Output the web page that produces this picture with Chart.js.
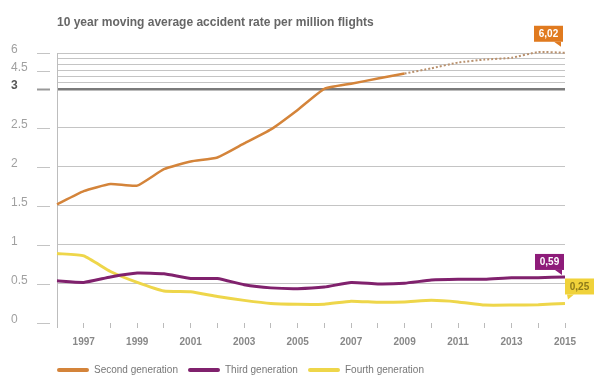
<!DOCTYPE html>
<html>
<head>
<meta charset="utf-8">
<script src="https://cdn.jsdelivr.net/npm/chart.js@4.4.1/dist/chart.umd.min.js"></script>
<style>
  body { margin: 0; background: #fff; }
  #wrap { width: 600px; height: 379px; }
</style>
</head>
<body>
<div id="wrap"><canvas id="chart"></canvas></div>
<script>
// data
const years = ["1996","1997","1998","1999","2000","2001","2002","2003","2004","2005",
               "2006","2007","2008","2009","2010","2011","2012","2013","2014","2015"];
const secondGen = [1.52,1.69,1.78,1.76,1.97,2.07,2.12,2.30,2.48,2.73,3.0,3.43,3.86,4.28,4.72,5.2,5.45,5.6,6.08,6.02];
const thirdGen  = [0.54,0.52,0.59,0.64,0.63,0.57,0.57,0.49,0.45,0.44,0.46,0.52,0.50,0.51,0.55,0.56,0.56,0.58,0.58,0.59];
const fourthGen = [0.89,0.86,0.66,0.52,0.41,0.40,0.34,0.29,0.25,0.24,0.24,0.28,0.265,0.27,0.29,0.27,0.23,0.23,0.235,0.25];
const seriesNames = ["Second generation", "Third generation", "Fourth generation"];
const endLabels = ["6,02", "0,59", "0,25"];
const yTicks = [0,0.5,1,1.5,2,2.5,3,3.5,4,4.5,5,5.5,6];
const yLabeled = [0,0.5,1,1.5,2,2.5,3,4.5,6];
const dottedFrom = "2009"; // second generation turns dotted here

// axis is broken at 3: everything above is squeezed
const BREAK = 3;
const SQUEEZE = 0.153;
function squash(v) { return v <= BREAK ? v : BREAK + (v - BREAK) * SQUEEZE; }
function unsquash(v) { return v <= BREAK ? v : BREAK + (v - BREAK) / SQUEEZE; }
function near(a, b) { return Math.abs(a - b) < 0.001; }
function isThree(c) { return !!(c && c.tick) && near(unsquash(c.tick.value), 3); }

const colors = ["#d4843a", "#80216d", "#eed64a"];
const tagColors = ["#e07a1f", "#8e1c7a", "#f0d23a"];
const tagText = ["#ffffff", "#ffffff", "#8d7a1a"];
const dotIdx = years.indexOf(dottedFrom);

const decor = {
  id: "decor",
  beforeDraw(chart) {
    const ctx = chart.ctx;
    ctx.save();
    ctx.fillStyle = "#666";
    ctx.font = "bold 12px 'Liberation Sans', Arial, sans-serif";
    ctx.textBaseline = "middle";
    ctx.fillText("10 year moving average accident rate per million flights", 57, 23);
    ctx.restore();
  },
  afterDraw(chart) {
    const ctx = chart.ctx;
    const y = chart.scales.y;
    ctx.save();
    // little dashes next to the labelled ticks
    yLabeled.forEach(v => {
      const py = Math.round(y.getPixelForValue(squash(v))) + 0.5;
      ctx.strokeStyle = v === 3 ? "#999" : "#c4c4c4";
      ctx.lineWidth = v === 3 ? 2 : 1;
      ctx.beginPath();
      ctx.moveTo(37, py);
      ctx.lineTo(50, py);
      ctx.stroke();
    });

    // end value tags
    chart.data.datasets.forEach((ds, i) => {
      const pts = chart.getDatasetMeta(i).data;
      const p = pts[pts.length - 1];
      const w = 29, h = 16;
      let left, bottom;
      if (i === 0) { left = p.x - 2 - w; bottom = p.y - 11; }
      else if (i === 1) { left = p.x - 1 - w; bottom = p.y - 7; }
      else { left = p.x; bottom = p.y - 9; }
      const top = bottom - h;
      ctx.fillStyle = tagColors[i];
      ctx.fillRect(left, top, w, h);
      ctx.beginPath();
      if (i === 2) {
        ctx.moveTo(left + 2, bottom);
        ctx.lineTo(left + 9, bottom);
        ctx.lineTo(left + 3, bottom + 5);
      } else {
        ctx.moveTo(left + w - 9, bottom);
        ctx.lineTo(left + w - 2, bottom);
        ctx.lineTo(left + w - 2, bottom + 5);
      }
      ctx.closePath();
      ctx.fill();
      ctx.fillStyle = tagText[i];
      ctx.font = "bold 10px 'Liberation Sans', Arial, sans-serif";
      ctx.textAlign = "center";
      ctx.textBaseline = "middle";
      ctx.fillText(endLabels[i], left + w / 2, top + h / 2 + 0.5);
    });

    // legend
    const legendX = [57, 188, 308];
    const ly = 370;
    ctx.font = "10px 'Liberation Sans', Arial, sans-serif";
    ctx.textAlign = "left";
    ctx.textBaseline = "middle";
    ctx.lineCap = "round";
    seriesNames.forEach((name, i) => {
      ctx.strokeStyle = colors[i];
      ctx.lineWidth = 4;
      ctx.beginPath();
      ctx.moveTo(legendX[i] + 2, ly);
      ctx.lineTo(legendX[i] + 30, ly);
      ctx.stroke();
      ctx.fillStyle = "#777";
      ctx.fillText(name, legendX[i] + 37, ly);
    });
    ctx.restore();
  }
};

const datasets = [secondGen, thirdGen, fourthGen].map((vals, i) => ({
  label: seriesNames[i],
  data: vals.map(squash),
  borderColor: colors[i],
  backgroundColor: colors[i],
  borderWidth: i === 0 ? 2.5 : 3,
  pointRadius: 0,
  tension: 0.15,
  clip: false,
  order: i === 2 ? 2 : i === 1 ? 1 : 0,
  segment: i === 0 ? {
    borderDash: c => c.p0DataIndex >= dotIdx ? [2, 2] : undefined,
    borderColor: c => c.p0DataIndex >= dotIdx ? "#b9916e" : undefined,
    borderWidth: c => c.p0DataIndex >= dotIdx ? 2 : undefined
  } : undefined
}));

new Chart(document.getElementById("chart"), {
  type: "line",
  data: { labels: years, datasets: datasets },
  options: {
    responsive: true,
    maintainAspectRatio: false,
    animation: false,
    events: [],
    layout: { padding: { left: 11, right: 35, top: 53, bottom: 31 } },
    plugins: { legend: { display: false }, tooltip: { enabled: false }, title: { display: false } },
    scales: {
      x: {
        offset: false,
        grid: { drawOnChartArea: false, drawTicks: true, tickLength: 5, color: "#bbb" },
        border: { display: false },
        ticks: {
          autoSkip: false,
          maxRotation: 0,
          padding: 8,
          color: "#888",
          font: { family: "'Liberation Sans', Arial, sans-serif", size: 10, weight: "bold" },
          callback: function (v, i) { return i % 2 === 1 ? years[i] : ""; }
        },
        afterFit: s => { s.height = 25; }
      },
      y: {
        min: 0,
        max: squash(6),
        afterBuildTicks: s => { s.ticks = yTicks.map(v => ({ value: squash(v) })); },
        afterFit: s => { s.width = 46; },
        grid: {
          drawTicks: false,
          color: c => {
            if (!c.tick) return "#c4c4c4";
            if (near(unsquash(c.tick.value), 0)) return "rgba(0,0,0,0)";
            return isThree(c) ? "#7a7a7a" : "#c4c4c4";
          },
          lineWidth: c => isThree(c) ? 2.5 : 1
        },
        border: { display: true, color: "#bdbdbd", width: 1 },
        ticks: {
          crossAlign: "far",
          labelOffset: -3,
          padding: 0,
          color: c => isThree(c) ? "#555" : "#a0a0a0",
          font: c => ({
            family: "'Liberation Sans', Arial, sans-serif",
            size: 12,
            weight: isThree(c) ? "bold" : "normal"
          }),
          callback: function (v) {
            const raw = unsquash(v);
            return yLabeled.some(t => near(t, raw)) ? String(Math.round(raw * 10) / 10) : "";
          }
        }
      }
    }
  },
  plugins: [decor]
});
</script>
</body>
</html>
